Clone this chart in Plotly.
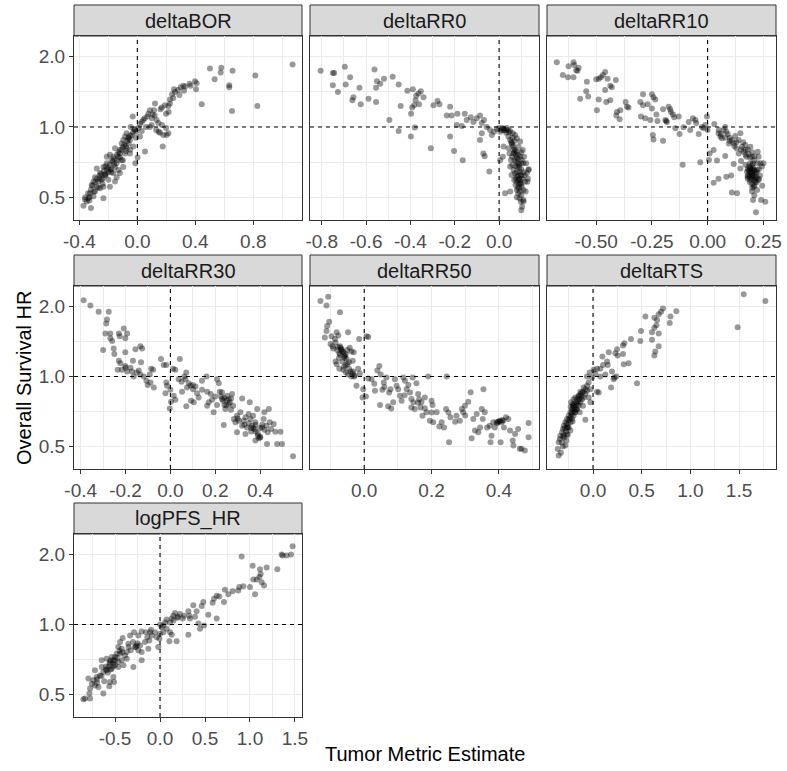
import math
import plotly.graph_objects as go

# ---------------- data (x = tumor metric estimate, y = overall survival HR) ----------------
panel_names = ["deltaBOR", "deltaRR0", "deltaRR10", "deltaRR30", "deltaRR50", "deltaRTS", "logPFS_HR"]

deltaBOR = [
    (0.501,1.78),(0.579,1.79),(0.657,1.74),(0.575,1.71),(0.533,1.60),(0.634,1.51),(0.634,1.48),(0.814,1.66),
    (1.071,1.85),(0.444,1.25),(0.653,1.17),(0.828,1.23),
    (0.398,1.57),(0.409,1.54),(0.405,1.45),(0.368,1.50),(0.317,1.50),(0.299,1.48),(0.322,1.43),(0.253,1.45),
    (0.260,1.41),(0.29,1.37),(0.225,1.31),(0.225,1.26),(0.214,1.23),(0.168,1.21),(0.248,1.33),(0.198,1.14),
    (0.216,1.16),(0.122,1.26),(0.115,1.18),(0.087,1.18),(0.106,1.13),(0.069,1.11),(0.076,1.14),(0.041,1.07),
    (0.030,1.05),(0.060,1.00),(0.133,1.07),(0.145,1.04),(0.147,0.955),(0.156,0.945),(0.179,0.925),(0.202,0.925),
    (0.198,0.99),(0.175,0.825),(0.214,0.94),(0.099,1.02),(0.087,1.0),(-0.032,1.11),(0.018,1.03),(0.007,0.99),
    (-0.009,0.955),(0.018,0.91),(0.053,0.785),(0.002,0.74),(-0.014,0.70),(-0.028,0.825),(-0.051,0.88),(-0.046,1.0),
    (-0.074,0.94),(-0.085,0.91),(-0.097,0.88),(-0.062,0.895),(-0.108,0.85),(-0.074,0.81),(-0.120,0.80),(-0.085,0.77),
    (-0.131,0.745),(-0.051,0.77),(-0.108,0.72),(-0.154,0.81),(-0.166,0.745),(-0.143,0.70),(-0.189,0.76),(-0.177,0.72),
    (-0.211,0.745),(-0.154,0.675),(-0.097,0.675),(-0.131,0.655),(-0.211,0.70),(-0.234,0.675),(-0.189,0.655),(-0.166,0.635),
    (-0.257,0.635),(-0.280,0.665),(-0.292,0.61),(-0.246,0.595),(-0.2,0.595),(-0.223,0.625),(-0.269,0.585),(-0.303,0.585),
    (-0.315,0.565),(-0.280,0.555),(-0.257,0.547),(-0.292,0.53),(-0.234,0.555),(-0.234,0.495),(-0.326,0.52),(-0.303,0.505),
    (-0.338,0.495),(-0.361,0.49),(-0.349,0.48),(-0.372,0.46),(-0.320,0.45),(-0.331,0.485),(-0.189,0.555),(-0.143,0.61),
    (-0.120,0.635),(-0.154,0.585),
    (-0.06,0.85),(-0.04,0.92),(-0.02,0.97),(-0.08,0.83),(-0.12,0.77),(-0.14,0.72),(-0.16,0.69),(-0.18,0.66),
    (-0.22,0.62),(-0.24,0.57),(-0.27,0.55),(-0.3,0.53),(-0.33,0.5),(0.05,1.09),(0.1,1.09),(0.12,1.12),
    (0.16,1.19),(0.19,1.24),(0.24,1.38),(0.28,1.44),(0.33,1.49),(0.36,1.53),(0.13,0.97),(0.17,1.02),
    (0.03,0.96),(-0.01,0.90),(-0.05,0.80),(-0.10,0.72),(-0.20,0.64),(-0.26,0.60),
    (-0.36,0.50),(-0.34,0.52),(-0.32,0.54),(-0.31,0.56),(-0.29,0.58),(-0.28,0.60),(-0.26,0.62),(-0.25,0.63),
    (-0.23,0.65),(-0.22,0.63),(-0.21,0.66),(-0.20,0.67),(-0.19,0.69),(-0.17,0.71),(-0.16,0.73),(-0.14,0.76),
    (-0.13,0.78),(-0.11,0.80),(-0.10,0.82),(-0.09,0.84),(-0.07,0.87),(-0.06,0.90),(-0.05,0.92),(-0.03,0.95),
    (-0.02,0.98),(-0.24,0.60),(-0.18,0.64),(-0.22,0.68),(-0.12,0.74),(-0.08,0.79),
]

deltaRR0 = [
    (-0.805,1.74),(-0.75,1.70),(-0.744,1.70),(-0.696,1.81),(-0.672,1.63),(-0.75,1.51),(-0.727,1.41),(-0.692,1.52),
    (-0.630,1.47),(-0.657,1.34),(-0.662,1.30),(-0.624,1.25),(-0.589,1.32),(-0.555,1.28),(-0.562,1.76),(-0.551,1.57),
    (-0.536,1.53),(-0.555,1.47),(-0.519,1.61),(-0.480,1.64),(-0.453,1.52),(-0.495,1.07),(-0.453,0.96),(-0.444,1.23),
    (-0.414,1.43),(-0.389,1.45),(-0.364,1.39),(-0.353,1.42),(-0.374,1.36),(-0.341,1.34),(-0.377,1.30),(-0.383,1.24),
    (-0.392,1.21),(-0.397,1.14),(-0.380,0.995),(-0.398,0.91),(-0.361,1.25),(-0.308,0.81),(-0.296,1.24),(-0.278,1.29),
    (-0.269,1.25),(-0.221,1.22),(-0.236,1.12),(-0.214,1.12),(-0.188,1.14),(-0.221,0.91),(-0.203,0.79),(-0.191,1.02),
    (-0.164,0.72),(-0.168,1.01),(-0.155,1.14),(-0.146,1.07),(-0.128,1.10),(-0.116,1.05),(-0.101,1.09),(-0.086,1.12),
    (-0.078,1.04),(-0.068,1.07),(-0.056,1.0),(-0.078,0.94),(-0.086,0.88),(-0.071,0.77),(-0.065,0.75),(-0.044,0.645),
    (-0.041,0.97),(-0.033,0.925),(-0.023,0.955),(0.0,0.99),(0.005,0.955),(0.012,0.97),(0.023,0.965),(0.032,0.945),
    (0.005,0.72),(0.017,0.745),(0.02,0.825),(0.027,0.52),(0.05,0.53),
    (0.042,0.91),(0.05,0.88),(0.057,0.851),(0.065,0.824),(0.072,0.797),(0.08,0.784),(0.087,0.759),(0.095,0.746),
    (0.102,0.722),(0.11,0.699),(0.047,0.771),(0.053,0.722),(0.059,0.688),(0.065,0.655),(0.072,0.634),(0.08,0.613),
    (0.087,0.593),(0.095,0.574),(0.102,0.555),(0.11,0.538),(0.077,0.711),(0.083,0.677),(0.092,0.644),(0.098,0.623),
    (0.068,0.593),(0.074,0.565),(0.08,0.538),(0.086,0.52),(0.092,0.495),(0.098,0.479),(0.104,0.456),(0.11,0.487),
    (0.117,0.583),(0.125,0.634),(0.132,0.655),(0.122,0.699),(0.113,0.746),(0.107,0.797),(0.065,0.771),(0.059,0.746),
    (0.042,0.81),(0.05,0.677),(0.056,0.623),(0.087,0.824),(0.095,0.866),(0.08,0.895),(0.072,0.924),(0.062,0.94),
    (0.128,0.583),
    (0.09,0.69),(0.1,0.66),(0.085,0.73),(0.075,0.76),(0.105,0.6),(0.115,0.62),(0.07,0.87),(0.06,0.9),
    (0.1,0.78),(0.09,0.55),(0.12,0.53),(0.13,0.6),(0.08,0.5),(0.1,0.51),(0.134,0.66),(0.04,0.97),
    (0.05,0.96),(0.035,0.99),(-0.01,0.98),(0.015,0.99),(0.11,0.48),(0.1,0.44),
    (0.07,0.72),(0.08,0.74),(0.085,0.70),(0.075,0.68),(0.09,0.67),(0.08,0.64),(0.085,0.62),(0.09,0.60),
    (0.10,0.62),(0.075,0.60),(0.08,0.58),(0.09,0.57),(0.095,0.59),(0.07,0.78),(0.065,0.80),(0.06,0.84),
    (0.055,0.86),(0.10,0.70),(0.11,0.64),(0.085,0.55),(0.10,0.57),(0.095,0.53),(0.02,0.98),(0.03,0.97),
    (0.045,0.95),
]

deltaRR10 = [
    (-0.677,1.89),(-0.650,1.67),(-0.627,1.63),(-0.624,1.82),(-0.602,1.89),(-0.599,1.84),(-0.590,1.75),(-0.579,1.79),
    (-0.602,1.63),(-0.584,1.74),(-0.542,1.56),(-0.572,1.32),(-0.545,1.42),(-0.536,1.35),(-0.5,1.60),(-0.488,1.61),
    (-0.479,1.63),(-0.460,1.72),(-0.470,1.67),(-0.449,1.61),(-0.437,1.50),(-0.430,1.48),(-0.460,1.44),(-0.412,1.59),
    (-0.489,1.31),(-0.497,1.18),(-0.455,1.28),(-0.437,1.30),(-0.407,1.16),(-0.392,1.18),(-0.410,1.12),(-0.395,1.08),
    (-0.368,1.28),(-0.362,1.22),(-0.355,1.21),(-0.299,1.11),(-0.290,1.38),(-0.302,1.28),(-0.290,1.24),(-0.269,1.25),
    (-0.25,1.38),(-0.243,1.34),(-0.235,1.31),(-0.25,1.20),(-0.28,1.09),(-0.257,1.07),(-0.246,0.924),(-0.243,0.885),
    (-0.2,0.874),(-0.23,1.13),(-0.225,1.06),(-0.2,1.19),(-0.186,1.06),(-0.175,1.22),(-0.168,1.19),(-0.165,1.16),
    (-0.156,1.13),(-0.150,1.10),(-0.130,1.11),(-0.19,1.07),(-0.183,1.05),(-0.145,0.987),(-0.126,0.934),(-0.112,0.69),
    (-0.108,0.997),(-0.085,1.05),(-0.078,0.971),(-0.066,1.09),(-0.055,1.07),(-0.051,1.04),(-0.040,0.934),(-0.033,0.706),
    (-0.025,1.0),(-0.018,0.987),(-0.010,1.02),(-0.003,1.11),(0.0,0.971),(0.006,0.722),(0.009,0.771),(0.027,0.797),
    (0.03,1.03),(0.027,0.578),(0.049,0.60),(0.042,0.718),(0.049,0.94),(0.057,0.91),(0.064,0.894),(0.072,0.971),
    (0.079,1.0),(0.084,0.955),(0.079,0.751),(0.084,0.613),(0.106,0.62),(0.109,0.524),(0.132,0.52),(0.109,0.88),
    (0.117,0.851),(0.129,0.81),(0.117,0.695),(0.124,0.915),(0.139,0.88),(0.147,0.94),(0.147,0.665),(0.150,0.716),
    (0.154,0.824),(0.162,0.784),(0.169,0.837),(0.174,0.746),(0.180,0.802),(0.184,0.766),(0.192,0.824),(0.199,0.746),
    (0.204,0.699),(0.207,0.655),(0.199,0.634),(0.189,0.623),(0.180,0.613),(0.177,0.644),(0.192,0.593),(0.204,0.613),
    (0.214,0.634),(0.222,0.655),(0.214,0.583),(0.207,0.555),(0.222,0.538),(0.199,0.529),(0.204,0.487),(0.229,0.746),
    (0.237,0.699),(0.244,0.677),(0.251,0.699),(0.229,0.593),(0.240,0.487),(0.259,0.479),(0.217,0.432),(0.192,0.665),
    (0.184,0.677),(0.225,0.784),
    (0.195,0.64),(0.2,0.6),(0.21,0.62),(0.205,0.67),(0.185,0.65),(0.215,0.6),(0.19,0.7),(0.21,0.72),
    (0.1,0.9),(0.09,0.93),(0.095,0.85),(0.14,0.77),(0.16,0.86),(0.17,0.8),(0.2,0.78),(0.225,0.7),
    (0.235,0.62),(0.245,0.56),(0.22,0.58),(0.21,0.51),
    (0.18,0.66),(0.19,0.67),(0.20,0.66),(0.21,0.65),(0.22,0.64),(0.18,0.62),(0.19,0.61),(0.20,0.62),
    (0.21,0.59),(0.20,0.57),(0.19,0.58),(0.18,0.60),(0.22,0.61),(0.23,0.60),(0.20,0.55),(0.21,0.56),
    (0.19,0.64),(0.20,0.69),(0.17,0.69),(0.23,0.66),(0.06,0.93),(0.08,0.90),(0.10,0.87),(0.12,0.83),
    (0.13,0.86),(0.15,0.80),(0.17,0.76),(0.19,0.74),(0.21,0.75),(0.05,0.97),
]

deltaRR30 = [
    (-0.387,2.13),(-0.357,2.02),(-0.320,1.90),(-0.275,1.90),(-0.283,1.76),(-0.286,1.69),(-0.290,1.53),(-0.268,1.53),
    (-0.268,1.46),(-0.260,1.42),(-0.230,1.53),(-0.226,1.49),(-0.208,1.61),(-0.193,1.53),(-0.201,1.46),(-0.300,1.30),
    (-0.253,1.32),(-0.201,1.27),(-0.156,1.31),(-0.134,1.35),(-0.126,1.32),(-0.131,1.15),(-0.230,1.17),(-0.223,1.14),
    (-0.235,1.07),(-0.216,1.07),(-0.201,1.11),(-0.193,1.05),(-0.178,1.09),(-0.171,1.05),(-0.167,1.17),(-0.164,1.0),
    (-0.141,1.06),(-0.134,1.02),(-0.119,1.0),(-0.107,0.958),(-0.101,0.918),(-0.089,0.942),(-0.086,1.08),(-0.077,1.07),
    (-0.092,1.02),(-0.074,0.897),(-0.042,1.19),(-0.030,1.12),(-0.018,1.12),(0.012,1.08),(0.022,1.07),(0.042,1.19),
    (-0.018,0.942),(-0.015,0.912),(0.0,0.877),(-0.022,0.848),(-0.003,0.729),(0.003,0.779),(0.015,0.826),(0.022,0.794),
    (0.037,0.974),(0.052,0.860),(0.062,1.0),(0.071,1.04),(0.067,0.974),(0.082,0.936),(0.074,0.897),(0.089,0.912),
    (0.101,0.882),(0.112,0.906),(0.119,0.848),(0.104,0.774),(0.071,0.744),(0.092,0.786),(0.126,0.813),(0.141,0.958),
    (0.161,1.0),(0.164,0.860),(0.171,0.774),(0.186,0.794),(0.193,0.701),(0.208,0.974),(0.216,0.936),(0.220,0.860),
    (0.230,0.855),(0.226,0.820),(0.235,0.786),(0.241,0.754),(0.245,0.724),(0.238,0.618),(0.253,0.826),(0.260,0.799),
    (0.265,0.774),(0.271,0.804),(0.275,0.840),(0.280,0.749),(0.283,0.656),(0.290,0.635),(0.297,0.678),(0.305,0.645),
    (0.312,0.701),(0.320,0.804),(0.320,0.614),(0.327,0.645),(0.335,0.667),(0.342,0.604),(0.349,0.690),(0.354,0.774),
    (0.357,0.656),(0.364,0.614),(0.369,0.678),(0.375,0.595),(0.379,0.635),(0.387,0.724),(0.390,0.556),(0.394,0.542),
    (0.401,0.547),(0.409,0.604),(0.416,0.656),(0.419,0.701),(0.428,0.614),(0.431,0.513),(0.434,0.575),(0.439,0.724),
    (0.443,0.635),(0.449,0.595),(0.461,0.625),(0.468,0.579),(0.476,0.513),(0.491,0.579),(0.498,0.513),(0.547,0.454),
    (0.379,0.530),(0.335,0.566),(0.297,0.575),(0.208,0.754),(0.164,0.749),(0.141,0.877),
    (0.25,0.79),(0.24,0.81),(0.26,0.76),(0.36,0.6),(0.38,0.58),(0.4,0.6),(0.35,0.63),(0.3,0.66),
    (0.2,0.82),(0.18,0.84),(-0.25,1.25),(-0.2,1.09),(-0.15,1.04),(0.05,0.95),(0.1,0.92),(0.42,0.59),
    (0.37,0.60),(0.39,0.57),(0.41,0.62),(0.36,0.58),(0.38,0.62),(0.40,0.55),(0.25,0.75),(0.27,0.72),
    (0.23,0.80),(0.33,0.62),
]

deltaRR50 = [
    (-0.130,2.11),(-0.107,2.20),(-0.112,2.02),(-0.072,1.89),(-0.104,1.72),(-0.110,1.65),(-0.112,1.57),(-0.117,1.47),
    (-0.097,1.49),(-0.082,1.55),(-0.077,1.50),(-0.087,1.45),(-0.094,1.35),(-0.092,1.32),(-0.048,1.55),(-0.015,1.45),
    (0.007,1.49),(0.012,1.48),(-0.072,1.35),(-0.067,1.31),(-0.062,1.27),(-0.057,1.23),(-0.074,1.26),(-0.043,1.33),
    (-0.038,1.28),(-0.031,1.27),(-0.052,1.19),(-0.045,1.15),(-0.034,1.17),(-0.082,1.13),(-0.074,1.08),(-0.062,1.07),
    (-0.054,1.04),(-0.048,1.02),(-0.038,1.0),(-0.033,1.05),(-0.028,1.01),(-0.018,1.08),(-0.013,1.03),(-0.023,0.912),
    (-0.003,0.882),(-0.005,0.813),(0.005,0.820),(0.012,0.980),(0.022,0.974),(0.032,0.868),(0.039,1.06),(0.045,1.11),
    (0.049,1.02),(0.047,0.754),(0.054,0.877),(0.058,0.942),(0.066,0.990),(0.074,0.854),(0.078,0.882),(0.071,0.744),
    (0.080,0.729),(0.086,0.774),(0.091,0.974),(0.096,0.912),(0.101,0.882),(0.106,0.826),(0.111,0.786),(0.116,0.990),
    (0.121,0.958),(0.126,0.882),(0.131,0.918),(0.136,0.854),(0.140,0.736),(0.144,0.990),(0.146,0.774),(0.150,0.724),
    (0.155,0.936),(0.160,0.840),(0.163,0.799),(0.167,0.736),(0.170,0.774),(0.173,0.678),(0.180,0.813),(0.185,0.701),
    (0.190,1.0),(0.195,0.645),(0.200,0.786),(0.203,0.754),(0.205,0.635),(0.215,0.701),(0.223,0.610),(0.230,0.635),
    (0.237,0.604),(0.243,0.724),(0.245,1.0),(0.252,0.521),(0.256,0.667),(0.270,0.639),(0.274,0.678),(0.284,0.645),
    (0.290,0.724),(0.294,0.701),(0.299,0.749),(0.309,0.779),(0.316,0.855),(0.319,0.542),(0.324,0.656),(0.329,0.585),
    (0.334,0.690),(0.339,0.575),(0.344,0.604),(0.349,0.724),(0.352,0.656),(0.354,0.882),(0.358,0.701),(0.365,0.604),
    (0.373,0.614),(0.375,0.521),(0.378,0.556),(0.383,0.635),(0.388,0.604),(0.393,0.635),(0.398,0.639),(0.403,0.645),
    (0.405,0.521),(0.408,0.635),(0.413,0.645),(0.415,0.604),(0.421,0.667),(0.428,0.656),(0.433,0.585),(0.441,0.530),
    (0.443,0.505),(0.448,0.566),(0.457,0.595),(0.462,0.489),(0.467,0.489),(0.477,0.480),(0.488,0.631),(0.488,0.548),
    (-0.07,1.33),(-0.065,1.28),(-0.06,1.22),(-0.075,1.2),(-0.055,1.25),(-0.08,1.3),(-0.05,1.13),(-0.06,1.1),
    (-0.04,1.05),(-0.03,1.0),(-0.085,1.16),(-0.1,1.38),(0.03,0.93),(0.06,0.9),(0.12,0.83),(0.14,0.8),
    (0.16,0.77),(0.4,0.64),(0.41,0.65),(0.395,0.63),(0.18,0.73),(0.2,0.7),(0.25,0.7),(0.3,0.68),
    (-0.068,1.30),(-0.072,1.24),(-0.058,1.20),(-0.065,1.16),(-0.05,1.30),(-0.078,1.34),(-0.085,1.40),(-0.045,1.08),
    (-0.055,1.12),(-0.035,1.03),
]

deltaRTS = [
    (1.548,2.26),(1.771,2.11),(1.486,1.63),(0.856,1.91),(0.719,1.96),(0.699,1.90),(0.675,1.85),(0.795,1.81),
    (0.788,1.70),(0.630,1.79),(0.538,1.81),(0.658,1.75),(0.651,1.66),(0.630,1.62),(0.606,1.55),(0.675,1.53),
    (0.606,1.44),(0.675,1.35),(0.640,1.28),(0.630,1.23),(0.493,1.57),(0.486,1.42),(0.390,1.45),(0.322,1.39),
    (0.308,1.36),(0.247,1.31),(0.229,1.26),(0.308,1.25),(0.315,1.13),(0.366,1.14),(0.253,1.23),(0.161,1.27),
    (0.096,1.22),(0.144,1.16),(0.151,1.12),(0.195,1.05),(0.103,1.12),(0.041,1.08),(0.007,1.07),(0.024,1.03),
    (0.075,1.08),(0.219,0.990),(0.240,1.0),(0.212,0.974),(0.452,0.936),(0.185,0.897),(0.127,1.02),(0.075,1.0),
    (0.058,0.854),(0.041,0.860),(-0.010,0.990),(-0.034,1.04),(-0.062,1.0),(-0.027,0.774),(-0.079,0.652),
    (-0.045,0.942),(-0.062,0.912),(-0.079,0.882),(-0.096,0.897),(-0.113,0.854),(-0.130,0.840),(-0.147,0.826),(-0.164,0.799),
    (-0.171,0.774),(-0.192,0.761),(-0.205,0.749),(-0.216,0.724),(-0.233,0.701),(-0.250,0.678),(-0.267,0.656),(-0.284,0.635),
    (-0.301,0.614),(-0.308,0.595),(-0.318,0.575),(-0.336,0.556),(-0.342,0.539),(-0.353,0.521),(-0.363,0.488),(-0.353,0.457),
    (-0.284,0.505),(-0.274,0.530),(-0.267,0.566),(-0.250,0.604),(-0.233,0.635),(-0.216,0.656),(-0.199,0.678),(-0.182,0.701),
    (-0.164,0.724),(-0.147,0.749),(-0.130,0.774),(-0.113,0.799),(-0.096,0.813),(-0.079,0.840),(-0.062,0.868),(-0.199,0.799),
    (-0.182,0.813),(-0.226,0.774),(-0.137,0.701),(-0.103,0.749),(-0.260,0.604),(-0.295,0.547),(-0.233,0.585),(-0.027,0.882),
    (-0.045,0.813),
    (-0.2,0.72),(-0.18,0.75),(-0.17,0.72),(-0.15,0.78),(-0.22,0.69),(-0.24,0.66),(-0.26,0.62),(-0.28,0.58),
    (-0.3,0.56),(-0.32,0.52),(-0.12,0.82),(-0.1,0.86),(-0.14,0.8),(-0.19,0.7),(-0.21,0.64),(-0.27,0.6),
    (-0.31,0.5),(-0.33,0.47),(-0.16,0.76),(-0.23,0.74),
    (-0.25,0.65),(-0.22,0.70),(-0.20,0.74),(-0.18,0.72),(-0.27,0.63),(-0.29,0.60),(-0.31,0.55),(-0.23,0.67),
    (-0.15,0.82),(-0.13,0.86),(-0.26,0.56),(-0.21,0.76),
]

logPFS_HR = [
    (1.474,2.17),(1.456,2.0),(1.407,1.98),(1.363,1.98),(1.352,2.0),(0.907,1.96),(1.030,1.79),(1.111,1.73),
    (1.185,1.76),(1.304,1.73),(1.119,1.65),(1.104,1.60),(1.037,1.56),(1.074,1.56),(1.130,1.52),(1.156,1.47),
    (1.056,1.35),(1.0,1.45),(0.926,1.46),(0.870,1.40),(0.881,1.45),(0.807,1.39),(0.759,1.35),(0.722,1.41),
    (0.711,1.25),(0.659,1.32),(0.630,1.33),(0.6,1.29),(0.585,1.24),(0.630,1.06),(0.537,1.10),(0.481,1.25),
    (0.463,1.20),(0.407,1.14),(0.370,1.21),(0.389,1.08),(0.426,1.01),(0.444,0.958),(0.489,0.990),(0.315,1.14),
    (0.326,1.09),(0.333,1.06),(0.267,1.09),(0.252,1.06),(0.222,1.11),(0.193,1.07),(0.167,1.12),(0.148,1.09),
    (0.130,1.06),(0.111,1.02),(0.074,1.05),(0.056,1.02),(0.037,0.990),(0.019,0.974),(0.074,0.958),(0.111,0.927),
    (0.130,0.903),(0.104,0.846),(0.185,0.846),(0.315,0.903),(0.0,0.912),(-0.007,0.868),(-0.019,0.800),(-0.037,0.882),
    (-0.056,0.927),(-0.093,0.897),(-0.119,0.854),(-0.141,0.882),(-0.156,0.927),(-0.204,0.933),(-0.241,0.897),(-0.289,0.927),
    (-0.333,0.897),(-0.415,0.874),(-0.352,0.826),(-0.259,0.813),(-0.222,0.813),(-0.167,0.840),(-0.130,0.786),(-0.204,0.761),
    (-0.241,0.774),(-0.278,0.800),(-0.326,0.774),(-0.370,0.761),(-0.389,0.736),(-0.426,0.786),(-0.463,0.800),(-0.444,0.749),
    (-0.481,0.749),(-0.5,0.724),(-0.519,0.701),(-0.537,0.724),(-0.556,0.690),(-0.463,0.690),(-0.426,0.701),(-0.407,0.667),
    (-0.204,0.701),(-0.296,0.656),(-0.463,0.656),(-0.5,0.667),(-0.537,0.645),(-0.574,0.656),(-0.593,0.635),(-0.630,0.625),
    (-0.648,0.656),(-0.667,0.604),(-0.722,0.635),(-0.704,0.595),(-0.741,0.575),(-0.759,0.556),(-0.722,0.547),(-0.685,0.539),
    (-0.630,0.505),(-0.563,0.542),(-0.556,0.566),(-0.511,0.566),(-0.519,0.595),(-0.778,0.530),(-0.785,0.505),(-0.833,0.480),
    (-0.852,0.477),(-0.778,0.480),(-0.796,0.585),(-0.648,0.701),(-0.593,0.712),(-0.370,0.712),(-0.444,0.840),(-0.111,0.927),
    (0.037,0.927),
    (-0.25,0.83),(-0.27,0.8),(-0.52,0.68),(-0.55,0.7),(-0.6,0.66),(-0.5,0.7),(-0.7,0.58),(-0.45,0.77),
    (0.2,1.08),(0.15,1.04),(0.0,1.0),(-0.1,0.95),
    (-0.55,0.64),(-0.58,0.62),(-0.60,0.64),(-0.52,0.66),(-0.48,0.72),(-0.42,0.76),(-0.35,0.80),(-0.30,0.84),
    (-0.65,0.60),(-0.70,0.56),(-0.62,0.57),(-0.56,0.68),
]

panel_data = [deltaBOR, deltaRR0, deltaRR10, deltaRR30, deltaRR50, deltaRTS, logPFS_HR]

x_ranges = [(-0.437, 1.136), (-0.853, 0.180), (-0.721, 0.307), (-0.430, 0.587),
            (-0.161, 0.519), (-0.473, 1.880), (-0.956, 1.578)]
x_ticks = [[-0.4, 0.0, 0.4, 0.8], [-0.8, -0.6, -0.4, -0.2, 0.0], [-0.5, -0.25, 0.0, 0.25],
           [-0.4, -0.2, 0.0, 0.2, 0.4], [0.0, 0.2, 0.4], [0.0, 0.5, 1.0, 1.5],
           [-0.5, 0.0, 0.5, 1.0, 1.5]]
x_ticktext = [["-0.4", "0.0", "0.4", "0.8"], ["-0.8", "-0.6", "-0.4", "-0.2", "0.0"],
              ["-0.50", "-0.25", "0.00", "0.25"], ["-0.4", "-0.2", "0.0", "0.2", "0.4"],
              ["0.0", "0.2", "0.4"], ["0.0", "0.5", "1.0", "1.5"],
              ["-0.5", "0.0", "0.5", "1.0", "1.5"]]
x_minor = [[-0.2, 0.2, 0.6, 1.0], [-0.7, -0.5, -0.3, -0.1, 0.1], [-0.625, -0.375, -0.125, 0.125],
           [-0.3, -0.1, 0.1, 0.3, 0.5], [-0.1, 0.1, 0.3, 0.5], [-0.25, 0.25, 0.75, 1.25, 1.75],
           [-0.75, -0.25, 0.25, 0.75, 1.25]]
y_ticks = [0.5, 1.0, 2.0]
y_ticktext = ["0.5", "1.0", "2.0"]
y_minor = [0.7071, 1.4142]
y_range = (0.40, 2.45)

# ---------------- layout geometry (pixels) ----------------
W, H = 787, 771
col_px = [(74, 302), (310, 539), (547, 776)]
row_plot_px = [(36, 220), (286, 469), (534, 717)]
row_strip_px = [(5, 36), (255, 286), (503, 534)]

FONT = "Liberation Sans, Arial, sans-serif"
BORDER = "#333333"
GRID = "#EBEBEB"

fig = go.Figure()
layout = dict(
    width=W, height=H, autosize=False, margin=dict(l=0, r=0, t=0, b=0, pad=0),
    paper_bgcolor="white", plot_bgcolor="white", showlegend=False,
    font=dict(family=FONT), shapes=[], annotations=[],
)

for i, (name, pts) in enumerate(zip(panel_names, panel_data)):
    r, c = divmod(i, 3)
    n = "" if i == 0 else str(i + 1)
    xs = [p[0] for p in pts]
    ys = [p[1] for p in pts]
    fig.add_trace(go.Scatter(
        x=xs, y=ys, mode="markers", xaxis="x" + n, yaxis="y" + n,
        marker=dict(size=6, color="black", opacity=0.4, line=dict(width=0)),
        hoverinfo="skip",
    ))
    x0p, x1p = col_px[c]
    y0p, y1p = row_plot_px[r]
    layout["xaxis" + n] = dict(
        domain=[x0p / W, x1p / W], range=list(x_ranges[i]), anchor="y" + n,
        automargin=False,
        tickmode="array", tickvals=x_ticks[i], ticktext=x_ticktext[i],
        ticks="outside", ticklen=4, tickwidth=1, tickcolor=BORDER,
        tickfont=dict(size=19, color="#4D4D4D", family=FONT),
        showgrid=True, gridcolor=GRID, gridwidth=1.1, zeroline=False,
        showline=True, linecolor=BORDER, linewidth=1, mirror=True,
        minor=dict(tickvals=x_minor[i], showgrid=True, gridcolor=GRID, gridwidth=0.55, ticks=""),
        fixedrange=True,
    )
    first_col = (c == 0)
    layout["yaxis" + n] = dict(
        type="log", domain=[1 - y1p / H, 1 - y0p / H],
        range=[math.log10(y_range[0]), math.log10(y_range[1])], anchor="x" + n,
        automargin=False,
        tickmode="array", tickvals=y_ticks, ticktext=y_ticktext,
        showticklabels=first_col, ticks="outside" if first_col else "",
        ticklen=4, tickwidth=1, tickcolor=BORDER,
        tickfont=dict(size=19, color="#4D4D4D", family=FONT),
        showgrid=True, gridcolor=GRID, gridwidth=1.1, zeroline=False,
        showline=True, linecolor=BORDER, linewidth=1, mirror=True,
        minor=dict(tickvals=y_minor, showgrid=True, gridcolor=GRID, gridwidth=0.55, ticks=""),
        fixedrange=True,
    )
    # reference lines
    layout["shapes"].append(dict(
        type="line", xref="x" + n + " domain", yref="y" + n, x0=0, x1=1, y0=1, y1=1,
        line=dict(color="black", width=1.1, dash="4px,4px"), layer="above"))
    layout["shapes"].append(dict(
        type="line", xref="x" + n, yref="y" + n + " domain", x0=0, x1=0, y0=0, y1=1,
        line=dict(color="black", width=1.1, dash="4px,4px"), layer="above"))
    # strip
    s0, s1 = row_strip_px[r]
    layout["shapes"].append(dict(
        type="rect", xref="paper", yref="paper",
        x0=x0p / W, x1=x1p / W, y0=1 - s1 / H, y1=1 - s0 / H,
        fillcolor="#D9D9D9", line=dict(color=BORDER, width=1), layer="below"))
    layout["annotations"].append(dict(
        text=name, xref="paper", yref="paper",
        x=(x0p + x1p) / 2 / W, y=1 - (s0 + s1) / 2 / H,
        xanchor="center", yanchor="middle", showarrow=False,
        font=dict(size=20, color="#1A1A1A", family=FONT)))

layout["annotations"].append(dict(
    text="Tumor Metric Estimate", xref="paper", yref="paper",
    x=425 / W, y=1 - 754 / H, xanchor="center", yanchor="middle", showarrow=False,
    font=dict(size=20, color="black", family=FONT)))
layout["annotations"].append(dict(
    text="Overall Survival HR", xref="paper", yref="paper",
    x=24 / W, y=1 - 378 / H, xanchor="center", yanchor="middle", showarrow=False,
    textangle=-90, font=dict(size=20, color="black", family=FONT)))

fig.update_layout(**layout)
fig.write_html(
    "out.html",
    config={"displayModeBar": False, "responsive": False},
    post_script="document.body.style.margin='0px';document.body.style.overflow='hidden';",
)
